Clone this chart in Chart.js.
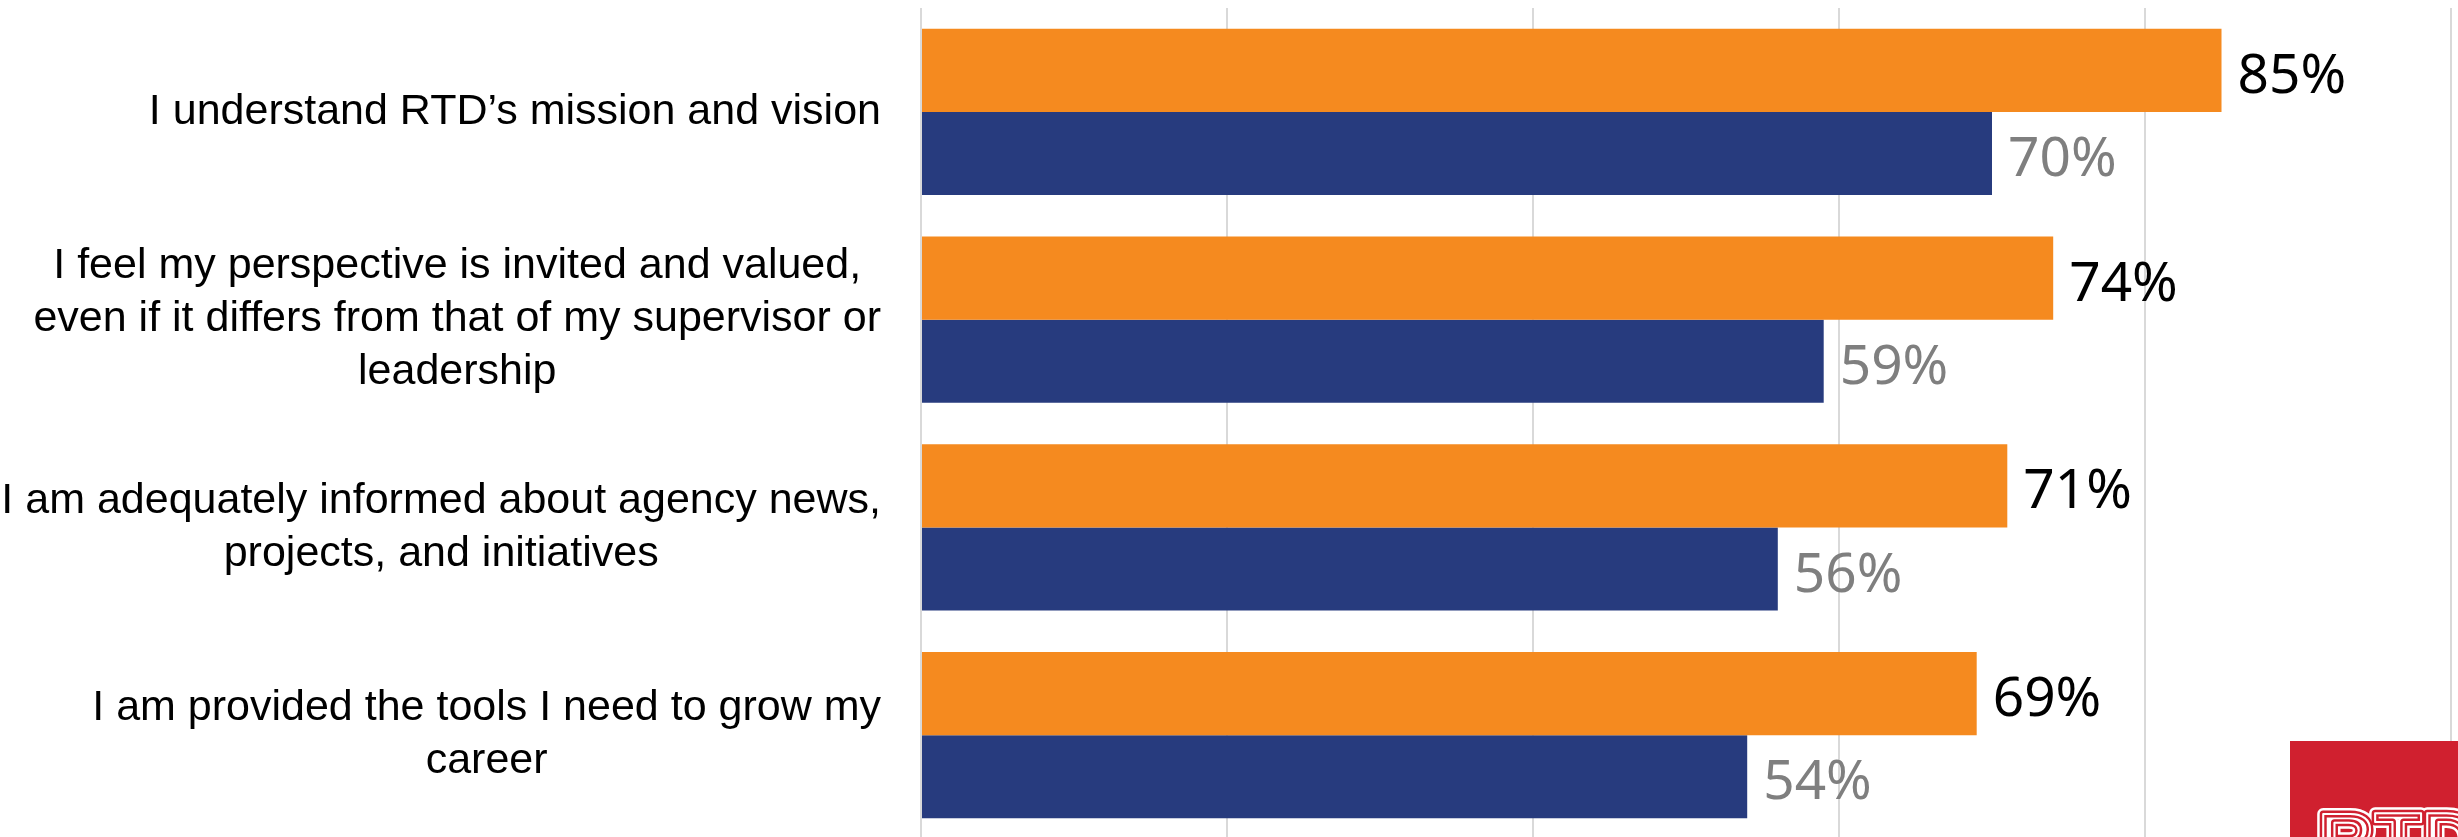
<!DOCTYPE html>
<html>
<head>
<meta charset="utf-8">
<script src="https://cdn.jsdelivr.net/npm/chart.js@4/dist/chart.umd.min.js"></script>
<style>
  html, body { margin: 0; padding: 0; background: #fff; overflow: hidden; }
  #wrap { position: relative; width: 2458px; height: 839px; }
</style>
</head>
<body>
<div id="wrap"><canvas id="survey"></canvas></div>
<script>
const categories = [
  ['I understand RTD’s mission and vision'],
  ['I feel my perspective is invited and valued,', 'even if it differs from that of my supervisor or', 'leadership'],
  ['I am adequately informed about agency news,', 'projects, and initiatives'],
  ['I am provided the tools I need to grow my', 'career']
];
const current = [85, 74, 71, 69];
const previous = [70, 59, 56, 54];
const xTicks = [0, 20, 40, 60, 80, 100];

const ORANGE = '#F58A1F';
const NAVY = '#273B7E';

// statement text on the left: lines centred on each other, block right-aligned
const categoryLabels = {
  id: 'categoryLabels',
  afterDraw(chart) {
    const c = chart.ctx;
    const y = chart.scales.y;
    const right = chart.chartArea.left - 40;
    const lh = 53;
    c.save();
    c.font = '43px "Liberation Sans", Arial, sans-serif';
    c.fillStyle = '#000';
    c.textAlign = 'center';
    c.textBaseline = 'middle';
    categories.forEach((lines, i) => {
      const w = Math.max(...lines.map(l => c.measureText(l).width));
      const cx = right - w / 2;
      const cy = y.getPixelForValue(i);
      const top = cy - (lines.length - 1) * lh / 2;
      lines.forEach((l, j) => c.fillText(l, cx, top + j * lh));
    });
    c.restore();
  }
};

// percentage next to each bar
const valueLabels = {
  id: 'valueLabels',
  afterDatasetsDraw(chart) {
    const c = chart.ctx;
    c.save();
    c.font = '55px "Noto Sans", "Open Sans", sans-serif';
    c.textAlign = 'left';
    c.textBaseline = 'middle';
    chart.data.datasets.forEach((ds, di) => {
      c.fillStyle = di === 0 ? '#000' : '#7F7F7F';
      chart.getDatasetMeta(di).data.forEach((bar, i) => {
        c.fillText(ds.data[i] + '%', bar.x + 16, bar.y + 7);
      });
    });
    c.restore();
  }
};

// agency mark in the lower right corner
const logo = {
  id: 'logo',
  afterDraw(chart) {
    const c = chart.ctx;
    c.save();
    c.fillStyle = '#D0202F';
    c.fillRect(2290, 741, 200, 120);
    c.font = 'bold 78px "Liberation Sans", Arial, sans-serif';
    c.textAlign = 'left';
    c.textBaseline = 'top';
    c.lineJoin = 'round';
    c.strokeStyle = '#fff';
    c.lineWidth = 12;
    c.strokeText('RTD', 2318, 806);
    c.strokeStyle = '#D0202F';
    c.lineWidth = 7;
    c.strokeText('RTD', 2318, 806);
    c.strokeStyle = '#fff';
    c.lineWidth = 2;
    c.strokeText('RTD', 2318, 806);
    c.restore();
  }
};

new Chart(document.getElementById('survey').getContext('2d'), {
  type: 'bar',
  data: {
    labels: categories,
    datasets: [
      { label: 'Current', data: current, backgroundColor: ORANGE, categoryPercentage: 0.8, barPercentage: 1 },
      { label: 'Previous', data: previous, backgroundColor: NAVY, categoryPercentage: 0.8, barPercentage: 1 }
    ]
  },
  options: {
    indexAxis: 'y',
    responsive: true,
    maintainAspectRatio: false,
    animation: false,
    layout: { padding: { left: 921, right: 7, top: 8, bottom: 0 } },
    plugins: {
      legend: { display: false },
      tooltip: { enabled: false }
    },
    scales: {
      x: {
        min: 0,
        max: 100,
        afterBuildTicks: (axis) => { axis.ticks = xTicks.map(v => ({ value: v })); },
        ticks: { display: false },
        border: { display: false },
        grid: { color: '#D9D9D9', lineWidth: 2, drawTicks: false }
      },
      y: {
        display: false
      }
    }
  },
  plugins: [categoryLabels, valueLabels, logo]
});
</script>
</body>
</html>
